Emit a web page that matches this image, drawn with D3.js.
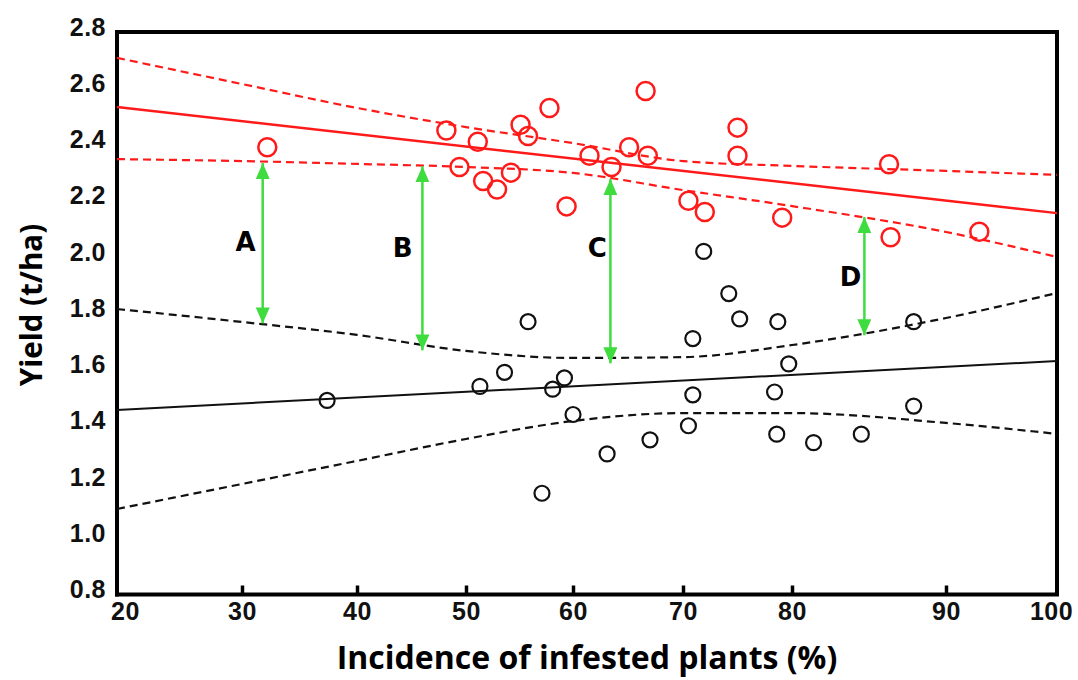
<!DOCTYPE html>
<html>
<head>
<meta charset="utf-8">
<script src="https://cdn.jsdelivr.net/npm/d3@7"></script>
<style>
  body { margin: 0; background: #fff; }
  .tick text { font-family: "Liberation Sans", Arial, sans-serif; font-weight: bold; font-size: 25px; letter-spacing: 0.5px; fill: #111; }
</style>
</head>
<body>
<div id="chart"></div>
<script>
const width = 1078, height = 680;

// axis ticks
const xTicks = [20, 30, 40, 50, 60, 70, 80, 90, 100];
const yTicks = [0.8, 1.0, 1.2, 1.4, 1.6, 1.8, 2.0, 2.2, 2.4, 2.6, 2.8];

// red group (higher yield)
const redPoints = [
  [32.2, 2.39], [48.2, 2.45], [51.1, 2.41], [49.4, 2.32], [51.6, 2.27], [52.9, 2.24],
  [54.2, 2.30], [55.1, 2.47], [55.8, 2.43], [57.8, 2.53], [59.4, 2.18], [61.5, 2.36],
  [63.5, 2.32], [65.1, 2.39], [66.6, 2.59], [66.8, 2.36], [70.5, 2.20], [72.0, 2.16],
  [75.0, 2.46], [75.0, 2.36], [79.1, 2.14], [86.3, 2.33], [86.4, 2.07], [93.0, 2.09]
];
// black group (lower yield)
const blackPoints = [
  [37.4, 1.49], [51.3, 1.54], [53.6, 1.59], [55.8, 1.77], [57.1, 1.16], [58.1, 1.53],
  [59.2, 1.57], [60.0, 1.44], [63.1, 1.30], [67.0, 1.35], [70.5, 1.40], [70.9, 1.71],
  [70.9, 1.51], [71.9, 2.02], [74.2, 1.87], [75.2, 1.78], [78.4, 1.52], [78.7, 1.77],
  [78.6, 1.37], [79.7, 1.62], [81.4, 1.34], [84.5, 1.37], [87.9, 1.77], [87.9, 1.47]
];

// regression lines (ends at x = 20 and 100)
const fitX = [20, 100];
const redFit = [2.533, 2.156];
const blackFit = [1.456, 1.630];

// confidence bands, read at every x tick
const redUpper = [2.708, 2.615, 2.530, 2.462, 2.405, 2.341, 2.324, 2.306, 2.292];
const redLower = [2.348, 2.341, 2.331, 2.320, 2.299, 2.238, 2.181, 2.089, 2.000];
const blackUpper = [1.815, 1.769, 1.723, 1.666, 1.641, 1.644, 1.687, 1.783, 1.872];
const blackLower = [1.104, 1.193, 1.275, 1.353, 1.417, 1.445, 1.445, 1.410, 1.371];

// green gap arrows
const arrowLabels = ["A", "B", "C", "D"];
const arrowX = [31.8, 46.0, 63.4, 84.7];
const arrowTop = [2.334, 2.323, 2.277, 2.142];
const arrowBottom = [1.764, 1.668, 1.622, 1.722];
const labelX = [30.3, 44.2, 62.2, 83.8];
const labelY = [2.053, 2.032, 2.032, 1.929];

const svg = d3.select('#chart')
    .append('svg')
    .attr('width', width)
    .attr('height', height);

// the printed x ticks are not evenly spaced, so follow them piece by piece
const x = d3.scaleLinear()
    .domain(xTicks)
    .range([117, 242, 357, 466, 573, 683, 792, 946, 1057]);

const y = d3.scaleLinear()
    .domain([0.8, 2.8])
    .range([594.5, 32]);

const red = '#ff1a1a', green = '#3fdc3f';

// frame: top and right
svg.append('path')
    .attr('d', `M${x(20)},${y(2.8)}H${x(100)}V${y(0.8)}`)
    .attr('fill', 'none')
    .attr('stroke', '#000')
    .attr('stroke-width', 4);

// bottom axis, ticks pointing inward
const gx = svg.append('g')
    .attr('transform', `translate(0,${y(0.8)})`)
    .call(d3.axisBottom(x).tickValues(xTicks).tickSizeInner(-9).tickSizeOuter(0).tickPadding(8));
gx.select('.domain').attr('stroke-width', 4).attr('d', `M${x(20) - 2},0H${x(100) + 2}`);
gx.selectAll('.tick line').attr('stroke-width', 3.5);
gx.selectAll('.tick').filter(d => d === 20 || d === 100).select('line').remove();
gx.selectAll('.tick').filter(d => d === 20).select('text').attr('dx', 8);
gx.selectAll('.tick').filter(d => d === 100).select('text').attr('dx', -6);

// left axis, labels only
const gy = svg.append('g')
    .attr('transform', `translate(${x(20)},0)`)
    .call(d3.axisLeft(y).tickValues(yTicks).tickSize(0).tickPadding(11).tickFormat(d3.format('.1f')));
gy.select('.domain').attr('stroke-width', 4).attr('d', `M0,${y(2.8) - 2}V${y(0.8) + 2}`);
gy.selectAll('.tick text').attr('y', -5);

// lines
const line = d3.line().x(d => x(d[0])).y(d => y(d[1]));
const band = d3.line().x(d => x(d[0])).y(d => y(d[1])).curve(d3.curveMonotoneX);

svg.append('path')
    .attr('d', line(d3.zip(fitX, redFit)))
    .attr('fill', 'none').attr('stroke', red).attr('stroke-width', 2.5);
svg.append('path')
    .attr('d', line(d3.zip(fitX, blackFit)))
    .attr('fill', 'none').attr('stroke', '#111').attr('stroke-width', 2);

[[redUpper, red], [redLower, red], [blackUpper, '#111'], [blackLower, '#111']].forEach(([vals, col]) => {
    svg.append('path')
        .attr('d', band(d3.zip(xTicks, vals)))
        .attr('fill', 'none')
        .attr('stroke', col)
        .attr('stroke-width', 2.2)
        .attr('stroke-dasharray', '8,5');
});

// points
svg.append('g')
    .selectAll('circle')
    .data(redPoints)
    .enter().append('circle')
    .attr('cx', d => x(d[0]))
    .attr('cy', d => y(d[1]))
    .attr('r', 9)
    .attr('fill', 'none')
    .attr('stroke', red)
    .attr('stroke-width', 2.5);

svg.append('g')
    .selectAll('circle')
    .data(blackPoints)
    .enter().append('circle')
    .attr('cx', d => x(d[0]))
    .attr('cy', d => y(d[1]))
    .attr('r', 7.5)
    .attr('fill', 'none')
    .attr('stroke', '#111')
    .attr('stroke-width', 2.2);

// arrows
svg.append('defs').append('marker')
    .attr('id', 'head')
    .attr('viewBox', '0 0 16 14')
    .attr('refX', 16).attr('refY', 7)
    .attr('markerWidth', 16).attr('markerHeight', 14)
    .attr('markerUnits', 'userSpaceOnUse')
    .attr('orient', 'auto-start-reverse')
    .append('path')
    .attr('d', 'M0,0L16,7L0,14Z')
    .attr('fill', green);

const arrows = svg.append('g');
arrowLabels.forEach((lab, i) => {
    arrows.append('line')
        .attr('x1', x(arrowX[i])).attr('y1', y(arrowTop[i]))
        .attr('x2', x(arrowX[i])).attr('y2', y(arrowBottom[i]))
        .attr('stroke', green)
        .attr('stroke-width', 2.5)
        .attr('marker-start', 'url(#head)')
        .attr('marker-end', 'url(#head)');
    arrows.append('text')
        .attr('x', x(labelX[i]))
        .attr('y', y(labelY[i]))
        .attr('text-anchor', 'middle')
        .attr('dominant-baseline', 'central')
        .style('font-family', '"DejaVu Sans", sans-serif')
        .style('font-weight', 'bold')
        .style('font-size', '26px')
        .text(lab);
});

// axis titles
svg.append('text')
    .attr('x', 587).attr('y', 656)
    .attr('text-anchor', 'middle')
    .attr('dominant-baseline', 'central')
    .style('font-family', '"Open Sans", sans-serif')
    .style('font-weight', 'bold')
    .style('font-size', '32px')
    .text('Incidence of infested plants (%)');

svg.append('text')
    .attr('transform', 'translate(30,305) rotate(-90)')
    .attr('text-anchor', 'middle')
    .attr('dominant-baseline', 'central')
    .style('font-family', '"Open Sans", sans-serif')
    .style('font-weight', 'bold')
    .style('font-size', '29.5px')
    .text('Yield (t/ha)');
</script>
</body>
</html>
